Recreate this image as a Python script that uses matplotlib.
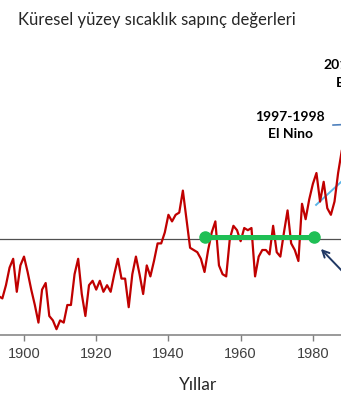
import numpy as np
import matplotlib
matplotlib.use('Agg')
import matplotlib.pyplot as plt

# Yıllık sıcaklık sapınç değerleri (°C)
years = list(range(1893, 1989))
anomaly = [-0.26, -0.27, -0.21, -0.13, -0.09, -0.24, -0.12,
           -0.08, -0.15, -0.23, -0.30, -0.38, -0.23, -0.20, -0.35, -0.37, -0.41,
           -0.37, -0.38, -0.30, -0.30, -0.16, -0.09, -0.25, -0.35, -0.21, -0.19,
           -0.23, -0.19, -0.24, -0.21, -0.24, -0.16, -0.09, -0.18, -0.18, -0.31,
           -0.16, -0.08, -0.16, -0.25, -0.12, -0.17, -0.10, -0.02, -0.02, 0.03,
           0.11, 0.08, 0.11, 0.12, 0.22, 0.09, -0.04, -0.05, -0.06, -0.09,
           -0.15, -0.05, 0.03, 0.08, -0.12, -0.16, -0.17, 0.00, 0.06, 0.04,
           -0.01, 0.05, 0.04, 0.05, -0.17, -0.08, -0.05, -0.05, -0.07, 0.06,
           -0.06, -0.08, 0.03, 0.13, -0.02, -0.05, -0.10, 0.16, 0.09, 0.18,
           0.25, 0.30, 0.17, 0.26, 0.14, 0.11, 0.17, 0.30, 0.40]

# 1951-1980 referans dönemi
base_years = [1950, 1980.3]
base_value = [0.01, 0.01]
tick_years = [1900, 1920, 1940, 1960, 1980]

W, H = 341, 400
fig = plt.figure(figsize=(W / 100, H / 100), dpi=100)
ax = fig.add_axes([0, 65 / H, 1, (335 - 40) / H])

ax.plot(years, anomaly, color='#c00000', lw=1.6, zorder=3,
        solid_joinstyle='round')
ax.axhline(0, color='#505050', lw=0.9, zorder=2)
ax.plot(base_years, base_value, color='#1fbf55', lw=3.6, marker='o',
        markersize=8, solid_capstyle='butt', zorder=4)

# oklar ve çizgiler
ax.annotate('', xy=(1981.7, -0.036), xytext=(1991.7, -0.207),
            arrowprops=dict(arrowstyle='->', color='#203864', lw=1.4,
                            mutation_scale=12), annotation_clip=False)
ax.plot([1980.9, 1993.1], [0.155, 0.339], color='#5bb5e8', lw=1.4,
        clip_on=False)
ax.plot([1985.6, 1995], [0.518, 0.525], color='#4f81bd', lw=1.2,
        clip_on=False)

ax.set_xlim(1893.35, 1987.8)
ax.set_ylim(-96 / 220, 199 / 220)
ax.set_xticks(tick_years)
ax.set_xticklabels([str(t) for t in tick_years], family='Liberation Sans',
                   fontsize=10.5, color='#404040')
ax.tick_params(axis='x', direction='out', length=4.5, width=1,
               color='#7f7f7f', pad=4)
ax.set_yticks([])
for s in ['top', 'left', 'right']:
    ax.spines[s].set_visible(False)
ax.spines['bottom'].set_color('#7f7f7f')
ax.spines['bottom'].set_linewidth(1.1)

def px(x, y):
    return x / W, 1 - y / H

fig.text(*px(18, 20), 'Küresel yüzey sıcaklık sapınç değerleri', family='Lato',
         fontsize=12, color='#262626', ha='left', va='center')
fig.text(*px(198, 385), 'Yıllar', family='Lato', fontsize=12.5,
         color='#262626', ha='center', va='center')
fig.text(*px(289.5, 117), '1997-1998', family='Lato', fontweight='bold',
         fontsize=10, ha='center', va='center')
fig.text(*px(290, 134), 'El Nino', family='Lato', fontweight='bold',
         fontsize=10, ha='center', va='center')
# sağ kenarda kesik duran etiket (referansta olduğu gibi)
fig.text(*px(358.5, 65), '2015-2016', family='Lato', fontweight='bold',
         fontsize=10, ha='center', va='center')
fig.text(*px(358.5, 83), 'El Nino', family='Lato', fontweight='bold',
         fontsize=10, ha='center', va='center')

fig.savefig('out.png', dpi=100)
